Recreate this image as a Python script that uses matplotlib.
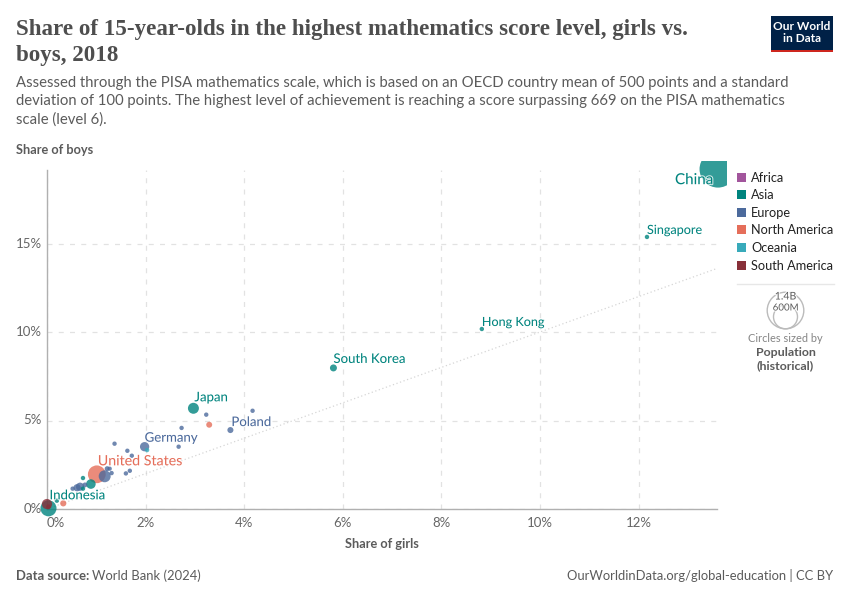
import numpy as np
import matplotlib
matplotlib.use('AGG')
import matplotlib.pyplot as plt
import matplotlib.patheffects as pe
from matplotlib.patches import Rectangle, Ellipse
from matplotlib.transforms import Bbox

plt.rcParams['font.family'] = ['Lato', 'DejaVu Sans']

# values
girls = [13.61, 12.17, 8.82, 5.81, 2.97, 3.23, 4.17, 3.29, 3.72, 2.73, 1.98, 2.03, 2.67, 1.37, 1.63,
         1.72, 1.01, 1.17, 1.22, 1.27, 1.31, 1.60, 1.68, 0.73, 0.89, 0.67, 0.61, 0.52, 0.73, 0.77,
         0.33, 0.20, 0.03, 0.00, 0.03]
boys = [19.2, 15.37, 10.17, 7.97, 5.69, 5.33, 5.55, 4.76, 4.46, 4.58, 3.52, 3.33, 3.52, 3.69, 3.29,
        3.01, 1.96, 1.85, 2.28, 2.28, 2.03, 2.01, 2.16, 1.75, 1.41, 1.26, 1.20, 1.15, 1.15, 1.36,
        0.32, 0.47, 0.04, 0.28, 0.12]
population = [1420, 6, 7, 51, 126, 9, 10, 37, 38, 9, 90, 5, 10, 11, 10,
              10, 330, 150, 25, 14, 9, 19, 11, 9, 96, 70, 55, 10, 10, 25,
              40, 10, 270, 110, 25]
continent = ['Asia', 'Asia', 'Asia', 'Asia', 'Asia', 'Europe', 'Europe', 'North America', 'Europe',
             'Europe', 'Europe', 'Oceania', 'Europe', 'Europe', 'Europe', 'Europe', 'North America',
             'Europe', 'Europe', 'Europe', 'Europe', 'Europe', 'Europe', 'Asia', 'Asia', 'Europe',
             'Europe', 'Europe', 'Asia', 'Europe', 'North America', 'Asia', 'Asia', 'South America',
             'South America']
point_labels = ['China', 'Singapore', 'Hong Kong', 'South Korea', 'Japan', '', '', '', 'Poland',
                '', 'Germany', '', '', '', '', '', 'United States', '', '', '', '', '', '', '', '',
                '', '', '', '', '', '', '', 'Indonesia', '', '']

# label offsets from the point, pixels, and font size
label_offsets = {'China': (-43, -11, 15.2), 'Singapore': (0, 7, 12.6), 'Hong Kong': (0, 7, 12.6),
                 'South Korea': (0, 9, 13.2), 'Japan': (1, 11, 13.2), 'Poland': (1, 8, 13.2),
                 'Germany': (0, 9, 13.2), 'United States': (1, 13, 14.2), 'Indonesia': (1, 13, 13.2)}

legend_names = ['Africa', 'Asia', 'Europe', 'North America', 'Oceania', 'South America']
legend_colors = ['#A2559C', '#00847E', '#4C6A9C', '#E56E5A', '#38AABA', '#883039']
colors = dict(zip(legend_names, legend_colors))

x_ticks = [0, 2, 4, 6, 8, 10, 12]
y_ticks = [0, 5, 10, 15]

W, H = 850, 600
fig = plt.figure(figsize=(8.5, 6), dpi=100)
ax = fig.add_axes([47 / W, 1 - 509 / H, 670 / W, 339 / H])
ax.set_xlim(0, 670 / 49.3)
ax.set_ylim(0, 339 / 17.7)


# put text on the figure using pixel coordinates
def px_text(x, y, s, **kwargs):
    kwargs.setdefault('va', 'center')
    return fig.text(x / W, 1 - y / H, s, **kwargs)


for spine in ['top', 'right']:
    ax.spines[spine].set_visible(False)
for spine in ['left', 'bottom']:
    ax.spines[spine].set_color('#b0b0b0')
    ax.spines[spine].set_linewidth(1)

ax.set_xticks(x_ticks)
ax.set_yticks(y_ticks)
ax.set_xticklabels([])
ax.set_yticklabels([])
ax.tick_params(length=0)
ax.grid(True, color='#e2e2e2', linestyle=(0, (4, 5)), linewidth=0.9)
ax.set_axisbelow(True)

# y = x reference line
ax.plot([0, 14], [0, 14], color='#d6d6d6', linestyle=(0, (1, 2)), linewidth=0.9, zorder=1)

# biggest first so the small circles stay on top
order = np.argsort(population)[::-1]
radius_px = np.maximum(18.3 * np.sqrt(np.array(population) / 1400), 2.2)
sizes = (2 * radius_px * 0.72) ** 2
points = ax.scatter(np.array(girls)[order], np.array(boys)[order], s=sizes[order],
                    c=[colors[continent[i]] for i in order], alpha=0.8,
                    edgecolors='none', zorder=3)
points.set_clip_box(Bbox.from_extents(0, 0, 727, H - 161))

for i, name in enumerate(point_labels):
    if name:
        dx, dy, size = label_offsets[name]
        ax.annotate(name, (girls[i], boys[i]), xytext=(dx, dy), textcoords='offset pixels',
                    ha='left', va='center', fontsize=size * 0.72, color=colors[continent[i]],
                    annotation_clip=False, zorder=5,
                    path_effects=[pe.withStroke(linewidth=1.5, foreground='white', alpha=0.8)])

# tick labels
for v in x_ticks:
    shift = 9 if v == 0 else 0
    ax.annotate(f'{v}%', (v, 0), xytext=(shift, -14), textcoords='offset pixels', ha='center',
                va='center', fontsize=9.5, color='#666666', annotation_clip=False)
for v in y_ticks:
    ax.annotate(f'{v}%', (0, v), xytext=(-5, 0), textcoords='offset pixels', ha='right',
                va='center', fontsize=9.5, color='#666666', annotation_clip=False)

# title block
px_text(16, 30, 'Share of 15-year-olds in the highest mathematics score level, girls vs.',
        fontsize=16.6, fontweight='bold', color='#4e4e4e', family='Liberation Serif')
px_text(16, 55, 'boys, 2018', fontsize=16.6, fontweight='bold', color='#4e4e4e',
        family='Liberation Serif')
subtitle = ['Assessed through the PISA mathematics scale, which is based on an OECD country mean of 500 points and a standard',
            'deviation of 100 points. The highest level of achievement is reaching a score surpassing 669 on the PISA mathematics',
            'scale (level 6).']
for line, y in zip(subtitle, [83.5, 101.5, 119.5]):
    px_text(16, y, line, fontsize=10.7, color='#5b5b5b')

px_text(16, 150.5, 'Share of boys', fontsize=9.2, fontweight='bold', color='#5b5b5b')
px_text(382, 544.5, 'Share of girls', fontsize=9.2, fontweight='bold', color='#5b5b5b', ha='center')

# logo
fig.add_artist(Rectangle((771 / W, 1 - 52 / H), 62 / W, 36 / H, transform=fig.transFigure,
                         facecolor='#002147', edgecolor='none'))
fig.add_artist(Rectangle((771 / W, 1 - 52 / H), 62 / W, 2.5 / H, transform=fig.transFigure,
                         facecolor='#ce261e', edgecolor='none'))
px_text(802, 26, 'Our World', fontsize=8.6, fontweight='bold', color='white', ha='center')
px_text(802, 39, 'in Data', fontsize=8.6, fontweight='bold', color='white', ha='center')

# legend
for name, color, y in zip(legend_names, legend_colors, [177, 194.7, 212.2, 229.8, 247.3, 265]):
    fig.add_artist(Rectangle((737 / W, 1 - (y + 4.5) / H), 9 / W, 9 / H, transform=fig.transFigure,
                             facecolor=color, edgecolor='none'))
    px_text(751, y + 0.5, name, fontsize=9.2, color='#222222')
fig.add_artist(plt.Line2D([737 / W, 834 / W], [1 - 284 / H, 1 - 284 / H], color='#e7e7e7', linewidth=1))

# size legend, pixel circles
for r, cy in [(18.3, 310.5), (12, 316.8)]:
    fig.add_artist(Ellipse((785.5 / W, 1 - cy / H), 2 * r / W, 2 * r / H,
                           transform=fig.transFigure, facecolor='none',
                           edgecolor='#bbbbbb', linewidth=1))
halo = [pe.withStroke(linewidth=1.5, foreground='white')]
px_text(785.5, 296, '1.4B', fontsize=7.6, color='#5b5b5b', ha='center', path_effects=halo)
px_text(785.5, 308, '600M', fontsize=7, color='#5b5b5b', ha='center', path_effects=halo)
px_text(785.5, 339, 'Circles sized by', fontsize=7.9, color='#858585', ha='center')
px_text(785.5, 353, 'Population', fontsize=8.9, fontweight='bold', color='#5b5b5b', ha='center')
px_text(785.5, 365.5, '(historical)', fontsize=8.9, fontweight='bold', color='#5b5b5b', ha='center')

# footer
px_text(16, 576, 'Data source:', fontsize=9.4, fontweight='bold', color='#5b5b5b')
px_text(92, 576, 'World Bank (2024)', fontsize=9.4, color='#5b5b5b')
px_text(833, 576, 'OurWorldinData.org/global-education | CC BY', fontsize=9.4, color='#5b5b5b', ha='right')

plt.savefig('out.png', dpi=100)
